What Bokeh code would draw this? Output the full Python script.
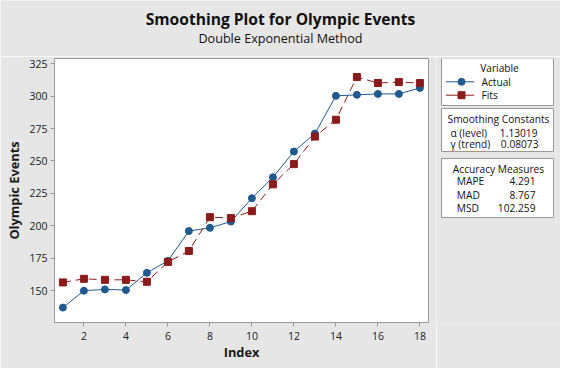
from bokeh.plotting import figure
from bokeh.layouts import column, row
from bokeh.models import Range1d, FixedTicker
from bokeh.core.properties import value
from bokeh.embed import file_html
from bokeh.resources import INLINE

index = list(range(1, 19))
actual = [137, 150, 151, 150.5, 163.8, 173, 196, 198.5, 203.3, 221.3, 237.4, 257.3, 271.1, 300.2, 301, 301.7, 301.7, 306.3]
fits = [156.4, 159.2, 158.4, 158.4, 156.9, 172.2, 180.6, 206.7, 206, 211.3, 232, 247.6, 268.8, 281.8, 314.7, 310.1, 310.8, 310.1]
x_ticks = [2, 4, 6, 8, 10, 12, 14, 16, 18]
y_ticks = [150, 175, 200, 225, 250, 275, 300, 325]

title = "Smoothing Plot for Olympic Events"
subtitle = "Double Exponential Method"
legend_title = "Variable"
series_names = ["Actual", "Fits"]
const_title = "Smoothing Constants"
const_names = ["α (level)", "γ (trend)"]
const_values = ["1.13019", "0.08073"]
acc_title = "Accuracy Measures"
acc_names = ["MAPE", "MAD", "MSD"]
acc_values = ["4.291", "8.767", "102.259"]

BG = "#e6e6e6"
BLUE = "#1f5a8e"
RED = "#8b1a1a"
GREY = "#999999"
FONT = "Open Sans"
TXT = "#111111"

W, H = 560, 368
TOP_H = 56
FL, FT, FR, FB = 54, 58, 428, 322  # frame edges in page-figure px
MAIN_W = 436
SIDE_FS = "10.2px"


def blank(width, height, x0, x1, y0, y1, btop=0, bbottom=0):
    f = figure(width=width, height=height, output_backend="svg", toolbar_location=None,
               x_range=Range1d(x0, x1), y_range=Range1d(y1, y0),
               x_axis_location=None, y_axis_location=None,
               min_border=0, min_border_left=0, min_border_right=0,
               min_border_top=btop, min_border_bottom=bbottom)
    f.background_fill_color = BG
    f.border_fill_color = BG
    f.outline_line_color = None
    f.grid.visible = False
    return f


def txt(f, s, x, y, size=SIDE_FS, align="left", bold=False):
    f.text(x=[x], y=[y], text=[s], text_font=value(FONT), text_font_size=size,
           text_align=align, text_baseline="middle", text_color=TXT,
           text_font_style="bold" if bold else "normal")


# ---- title strip
top = blank(W, TOP_H, 0, W, 0, TOP_H)
txt(top, title, 280, 18, size="15.6px", align="center", bold=True)
txt(top, subtitle, 280, 37.5, size="12.6px", align="center")

# ---- main plot
p = figure(width=MAIN_W, height=H - TOP_H, output_backend="svg", toolbar_location=None,
           x_range=Range1d(0.6, 18.41), y_range=Range1d(125.5, 329),
           min_border_left=FL, min_border_top=FT - TOP_H, min_border_right=MAIN_W - FR,
           min_border_bottom=H - FB)
p.background_fill_color = "white"
p.border_fill_color = BG
p.outline_line_color = GREY
p.grid.visible = False

for ax in (p.xaxis[0], p.yaxis[0]):
    ax.axis_line_color = GREY
    ax.major_tick_line_color = GREY
    ax.minor_tick_line_color = None
    ax.major_tick_in = 0
    ax.major_tick_out = 4
    ax.major_label_text_font = FONT
    ax.major_label_text_font_size = "10.5px"
    ax.major_label_text_color = "#222222"
    ax.axis_label_text_font = FONT
    ax.axis_label_text_font_size = "12.8px"
    ax.axis_label_text_font_style = "bold"
    ax.axis_label_text_color = "#1a1a1a"
p.xaxis.ticker = FixedTicker(ticks=x_ticks)
p.yaxis.ticker = FixedTicker(ticks=y_ticks)
p.xaxis.axis_label = "Index"
p.yaxis.axis_label = "Olympic Events"
p.xaxis.major_label_standoff = 5
p.yaxis.major_label_standoff = 3
p.xaxis.axis_label_standoff = 0
p.yaxis.axis_label_standoff = 3

p.line(index, actual, line_color=BLUE, line_width=1)
p.scatter(index, actual, marker="circle", size=7, fill_color=BLUE, line_color=BLUE)
p.line(index, fits, line_color=RED, line_width=1, line_dash="8 5")
p.scatter(index, fits, marker="square", size=7, fill_color=RED, line_color=RED)

# ---- side panel (coordinates are page-figure pixels; frame spans FT..FB like the main plot)
s = blank(W - MAIN_W, H - TOP_H, MAIN_W, W, FT, FB, btop=FT - TOP_H, bbottom=H - FB)
s.quad(left=[441, 441, 441], right=[553, 553, 553], top=[57.5, 108, 158], bottom=[105, 151, 217],
       fill_color="white", line_color=GREY, line_width=1)

txt(s, legend_title, 499, 67.7, align="center")
rows_y = [81.3, 94.7]
s.line([445.3, 473.7], [rows_y[0]] * 2, line_color=BLUE, line_width=1)
s.scatter([461], [rows_y[0]], marker="circle", size=7, fill_color=BLUE, line_color=BLUE)
s.line([445.3, 473.7], [rows_y[1]] * 2, line_color=RED, line_width=1)
s.scatter([461], [rows_y[1]], marker="square", size=7, fill_color=RED, line_color=RED)
txt(s, series_names[0], 481, rows_y[0])
txt(s, series_names[1], 481, rows_y[1])

txt(s, const_title, 498, 118, align="center")
txt(s, const_names[0], 450, 132.3)
txt(s, const_values[0], 537, 132.3, align="right")
txt(s, const_names[1], 450, 143)
txt(s, const_values[1], 538, 143, align="right")

txt(s, acc_title, 498, 168, align="center")
for i, (n, v) in enumerate(zip(acc_names, acc_values)):
    fy = 180.7 + i * 13.5
    txt(s, n, 456.3, fy)
    txt(s, v, 535, fy, align="right")

layout = column(top, row(p, s, spacing=0), spacing=0)
open("out.html", "w").write(file_html(layout, INLINE))
